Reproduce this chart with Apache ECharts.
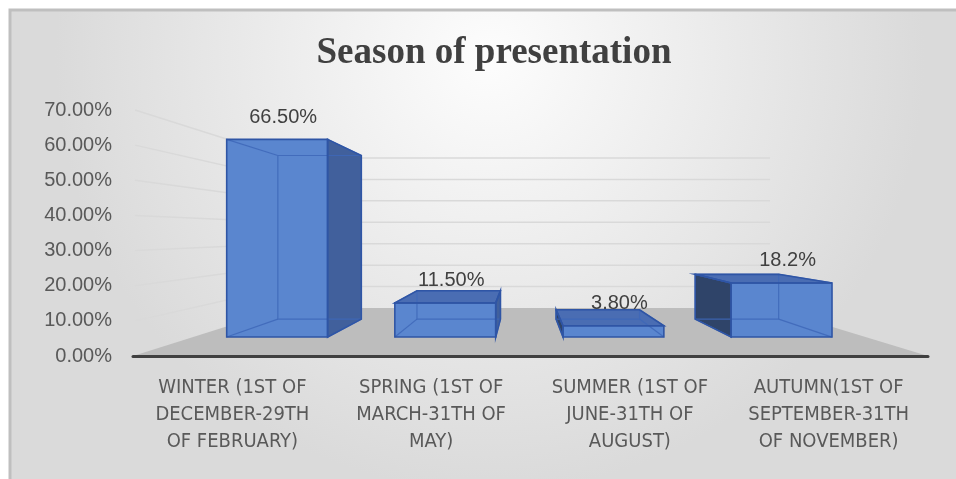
<!DOCTYPE html>
<html>
<head>
<meta charset="utf-8">
<script src="https://cdn.jsdelivr.net/npm/echarts@6/dist/echarts.min.js"></script>
<style>
  html, body { margin: 0; padding: 0; background: #fff; }
  #main { width: 956px; height: 479px; }
</style>
</head>
<body>
<div id="main"></div>
<script>
// data
var categories = [
    'WINTER (1ST OF\nDECEMBER-29TH\nOF FEBRUARY)',
    'SPRING (1ST OF\nMARCH-31TH OF\nMAY)',
    'SUMMER (1ST OF\nJUNE-31TH OF\nAUGUST)',
    'AUTUMN(1ST OF\nSEPTEMBER-31TH\nOF NOVEMBER)'
];
var values = [0.665, 0.115, 0.038, 0.182];
var valueLabels = ['66.50%', '11.50%', '3.80%', '18.2%'];
var yTicks = [0.1, 0.2, 0.3, 0.4, 0.5, 0.6, 0.7];

// perspective settings (front plane = grid)
var VP_X = 0.4906;    // vanishing point, fraction of grid width
var VP_VALUE = 0.35;  // vanishing point height, in axis units
var FRONT = 0.846;    // depth scale of bar front faces
var BACK = 0.70;      // depth scale of bar back faces
var WALL = 0.61;      // depth scale of back wall

function vanish(params, api) {
    var cs = params.coordSys;
    return [cs.x + cs.width * VP_X, api.coord([0, VP_VALUE])[1]];
}
function proj(p, s, vp) {
    return [vp[0] + (p[0] - vp[0]) * s, vp[1] + (p[1] - vp[1]) * s];
}

var myChart = echarts.init(document.getElementById('main'));

var option = {
    backgroundColor: '#ffffff',
    graphic: [{
        type: 'rect',
        z: -10,
        shape: { x: 10, y: 10, width: 960, height: 480 },
        style: {
            fill: {
                type: 'radial', x: 0.5, y: 0.1, r: 0.9,
                colorStops: [{ offset: 0, color: '#fdfdfd' }, { offset: 1, color: '#dadada' }]
            },
            stroke: '#bfbfbf',
            lineWidth: 3
        },
        silent: true
    }],
    title: {
        text: 'Season of presentation',
        left: 489,
        top: 30,
        textAlign: 'center',
        textStyle: {
            fontFamily: 'Liberation Serif',
            fontWeight: 'bold',
            fontSize: 37,
            color: '#404040'
        }
    },
    grid: { left: 133, right: 28, top: 110, bottom: 123 },
    xAxis: {
        type: 'category',
        data: categories,
        z: 5,
        axisLine: { lineStyle: { color: '#404040', width: 3 } },
        axisTick: { show: false },
        axisLabel: {
            interval: 0,
            margin: 18,
            fontFamily: 'DejaVu Sans Condensed',
            fontSize: 20,
            lineHeight: 27,
            color: '#595959'
        }
    },
    yAxis: {
        type: 'value',
        min: 0,
        max: 0.7,
        interval: 0.1,
        axisLine: { show: false },
        axisTick: { show: false },
        splitLine: { show: false },
        axisLabel: {
            margin: 21,
            fontFamily: 'Liberation Sans',
            fontSize: 20,
            color: '#595959',
            formatter: function (v) { return (v * 100).toFixed(2) + '%'; }
        }
    },
    series: [
        // floor
        {
            type: 'custom',
            z: 1,
            clip: false,
            silent: true,
            data: [[0, 0]],
            renderItem: function (params, api) {
                var vp = vanish(params, api);
                var cs = params.coordSys;
                var y = api.coord([0, 0])[1];
                var l = [cs.x, y], r = [cs.x + cs.width, y];
                return {
                    type: 'polygon',
                    shape: { points: [l, r, proj(r, WALL, vp), proj(l, WALL, vp)] },
                    style: { fill: '#bdbdbd' }
                };
            }
        },
        // walls gridlines
        {
            type: 'custom',
            z: 1,
            clip: false,
            silent: true,
            data: yTicks.map(function (v) { return [0, v]; }),
            renderItem: function (params, api) {
                var vp = vanish(params, api);
                var cs = params.coordSys;
                var y = api.coord([0, api.value(1)])[1];
                var l = [cs.x + 2, y], r = [cs.x + cs.width, y];
                var bl = proj(l, WALL, vp), br = proj(r, WALL, vp);
                return {
                    type: 'polyline',
                    shape: { points: [l, bl, br] },
                    style: { stroke: '#d9d9d9', lineWidth: 1.5, fill: null }
                };
            }
        },
        // bars
        {
            type: 'custom',
            z: 3,
            clip: false,
            data: values.map(function (v, i) { return [i, v]; }),
            renderItem: function (params, api) {
                var vp = vanish(params, api);
                var top = api.coord([api.value(0), api.value(1)]);
                var base = api.coord([api.value(0), 0]);
                var w = api.size([1, 0])[0] * 0.6;
                var x0 = base[0] - w / 2, x1 = base[0] + w / 2;
                function c(x, y, s) { return proj([x, y], s, vp); }
                var ftl = c(x0, top[1], FRONT), ftr = c(x1, top[1], FRONT);
                var fbl = c(x0, base[1], FRONT), fbr = c(x1, base[1], FRONT);
                var btl = c(x0, top[1], BACK), btr = c(x1, top[1], BACK);
                var bbl = c(x0, base[1], BACK), bbr = c(x1, base[1], BACK);

                var side, sideColor;
                if (base[0] > vp[0]) {
                    side = [ftl, btl, bbl, fbl]; sideColor = '#2f4469';
                } else {
                    side = [ftr, btr, bbr, fbr]; sideColor = '#41609c';
                }
                var faces = [{ pts: side, fill: sideColor }];
                if (top[1] > vp[1]) faces.push({ pts: [ftl, ftr, btr, btl], fill: '#4a6db3' });
                faces.push({ pts: [ftl, ftr, fbr, fbl], fill: '#5a86cf' });

                var children = [];
                faces.forEach(function (f) {
                    children.push({ type: 'polygon', shape: { points: f.pts }, style: { fill: f.fill } });
                });
                // hidden edges seen through
                var hidden = { stroke: '#3e67b8', lineWidth: 1.2, fill: null, opacity: 0.85 };
                children.push({ type: 'polyline', shape: { points: [btl, btr, bbr, bbl, btl] }, style: hidden });
                [[ftl, btl], [ftr, btr], [fbl, bbl], [fbr, bbr]].forEach(function (e) {
                    children.push({ type: 'line', shape: { x1: e[0][0], y1: e[0][1], x2: e[1][0], y2: e[1][1] }, style: hidden });
                });
                // visible outlines
                faces.forEach(function (f) {
                    children.push({ type: 'polygon', shape: { points: f.pts }, style: { fill: null, stroke: '#2f55a5', lineWidth: 1.6 } });
                });
                var lp = c(base[0], top[1], FRONT);
                children.push({
                    type: 'text',
                    style: {
                        x: lp[0] + 6, y: lp[1] - 22,
                        text: valueLabels[params.dataIndex],
                        fill: '#404040',
                        font: '20px "Liberation Sans"',
                        align: 'center',
                        verticalAlign: 'middle'
                    }
                });
                return { type: 'group', children: children };
            }
        }
    ]
};

myChart.setOption(option);
</script>
</body>
</html>
